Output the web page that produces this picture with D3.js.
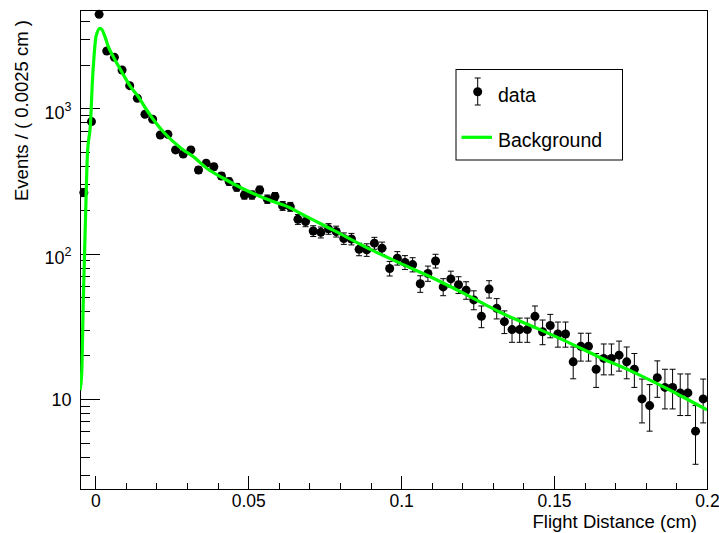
<!DOCTYPE html>
<html><head><meta charset="utf-8">
<script src="https://cdn.jsdelivr.net/npm/d3@7"></script>
<style>
body{margin:0;background:#fff}
svg{display:block}
text{font-family:"Liberation Sans",Arial,Helvetica,sans-serif;fill:#000}
</style>
</head><body>
<svg id="chart" width="719" height="533"></svg>
<script>
// ---------------- data ----------------
const binLow = -0.005;
const binWidth = 0.0025;
const counts = [263, 810, 4430, 2480, 2240, 1834, 1431, 1172, 909, 840,
  655, 662, 517, 485, 517, 376, 418, 396, 342, 313,
  286, 253, 253, 274, 237, 247, 213, 210, 172, 166,
  143, 140, 148, 142, 127, 126, 107, 106, 118, 109,
  79, 93, 87, 84, 62, 73, 89, 59, 67, 61,
  56, 48, 37, 57, 42, 34, 30, 30, 30, 37,
  29, 32, 28, 28, 18, 23, 23, 16, 19, 19,
  20, 18, 16, 10, 9, 14, 12, 12, 11, 11,
  6, 10];
const curveDist = [-0.005, -0.00444, -0.00392, -0.00304, -0.00261, -0.0015, -0.00098, -0.00042, 0.00023, 0.00154,
  0.0021, 0.00317, 0.00425, 0.00589, 0.00863, 0.01135, 0.01406, 0.01681, 0.01952, 0.02224,
  0.0255, 0.02878, 0.03204, 0.03643, 0.04185, 0.04731, 0.05277, 0.0582, 0.06366, 0.06693,
  0.07782, 0.08874, 0.09963, 0.11052, 0.12143, 0.13232, 0.14321, 0.15413, 0.16502, 0.17591,
  0.18683, 0.2];
const curveVal = [11.5, 15.1, 48, 234, 465, 831, 1486, 2265, 3109, 3551,
  3495, 3109, 2653, 2265, 1786, 1424, 1202, 973, 809, 690,
  589, 517, 465, 387, 330, 286, 253, 228, 207, 190,
  145, 110, 86, 67.7, 52, 39.5, 31.4, 24.8, 19.3, 15.3,
  11.8, 8.4];
const xMajorTicks = [0, 0.05, 0.1, 0.15, 0.2];
const xTickLabels = ["0", "0.05", "0.1", "0.15", "0.2"];
const xMinorTicks = [0.01,0.02,0.03,0.04,0.06,0.07,0.08,0.09,0.11,0.12,0.13,0.14,0.16,0.17,0.18,0.19];
const yMajorTicks = [10, 100, 1000];
const yTickBase = ["10", "10", "10"];
const yTickExp = ["", "2", "3"];
const yMinorTicks = [3,4,5,6,7,8,9,20,30,40,50,60,70,80,90,200,300,400,500,600,700,800,900,2000,3000,4000];
const xTitle = "Flight Distance (cm)";
const yTitle = "Events / ( 0.0025 cm )";
const legendLabels = ["data", "Background"];

// ---------------- layout ----------------
const L = 80, R = 707, T = 10, B = 489;
const svg = d3.select("#chart");
const x = d3.scaleLinear().domain([-0.005, 0.2]).range([L, R]);
const y = d3.scaleLog().domain([2.4, 4745]).range([B, T]);

svg.append("defs").append("clipPath").attr("id","clip")
  .append("rect").attr("x",L).attr("y",T).attr("width",R-L).attr("height",B-T);

// x axis
const gx = svg.append("g").attr("transform",`translate(0,${B})`);
gx.call(d3.axisBottom(x).tickValues(xMajorTicks).tickSizeInner(-13).tickSizeOuter(0).tickPadding(5.5)
  .tickFormat((d,i)=>xTickLabels[i]));
const gxm = svg.append("g").attr("transform",`translate(0,${B})`);
gxm.call(d3.axisBottom(x).tickValues(xMinorTicks).tickSizeInner(-6.5).tickSizeOuter(0).tickFormat(""));
[gx,gxm].forEach(g=>{g.select(".domain").remove();g.selectAll("line").attr("stroke","#000").attr("shape-rendering","crispEdges");});
gx.selectAll("text").attr("font-size",17.5).attr("font-family",null).attr("fill","#000");

// y axis
const gy = svg.append("g").attr("transform",`translate(${L},0)`);
gy.call(d3.axisLeft(y).tickValues(yMajorTicks).tickSizeInner(-20).tickSizeOuter(0).tickPadding(8).tickFormat(""));
const gym = svg.append("g").attr("transform",`translate(${L},0)`);
gym.call(d3.axisLeft(y).tickValues(yMinorTicks).tickSizeInner(-10).tickSizeOuter(0).tickFormat(""));
[gy,gym].forEach(g=>{g.select(".domain").remove();g.selectAll("line").attr("stroke","#000").attr("shape-rendering","crispEdges");});
gy.selectAll(".tick").each(function(d,i){
  const t = d3.select(this).select("text").attr("font-size",18).attr("font-family",null)
    .attr("x",-8.5).attr("dy",null).attr("text-anchor","end");
  t.text(null);
  if (yTickExp[i]) {
    t.attr("y",10);
    t.append("tspan").text(yTickBase[i]);
    t.append("tspan").attr("dy",-8).attr("font-size",12.5).text(yTickExp[i]);
  } else {
    t.attr("y",7);
    t.append("tspan").text(yTickBase[i]);
  }
});

// frame
svg.append("rect").attr("x",L).attr("y",T).attr("width",R-L).attr("height",B-T)
  .attr("fill","none").attr("stroke","#000").attr("stroke-width",1).attr("shape-rendering","crispEdges");

// titles
svg.append("text").attr("x",697).attr("y",528).attr("text-anchor","end").attr("font-size",18.5).text(xTitle);
svg.append("text").attr("transform","translate(28,20) rotate(-90)").attr("text-anchor","end").attr("font-size",18.5).text(yTitle);

// data
const pts = counts.map((n,i)=>({d: binLow + (i+0.5)*binWidth, n,
  lo: n - Math.sqrt(n), hi: n + 0.5 + Math.sqrt(n+0.25)}));
const gd = svg.append("g");
const cap = 3;
gd.selectAll("line.eb").data(pts).join("line").attr("class","eb")
  .attr("x1",p=>x(p.d)).attr("x2",p=>x(p.d)).attr("y1",p=>y(p.lo)).attr("y2",p=>y(p.hi))
  .attr("stroke","#000").attr("stroke-width",1);
gd.selectAll("line.ct").data(pts).join("line").attr("class","ct")
  .attr("x1",p=>x(p.d)-cap).attr("x2",p=>x(p.d)+cap).attr("y1",p=>y(p.hi)).attr("y2",p=>y(p.hi))
  .attr("stroke","#000").attr("stroke-width",1);
gd.selectAll("line.cb").data(pts).join("line").attr("class","cb")
  .attr("x1",p=>x(p.d)-cap).attr("x2",p=>x(p.d)+cap).attr("y1",p=>y(p.lo)).attr("y2",p=>y(p.lo))
  .attr("stroke","#000").attr("stroke-width",1);
gd.selectAll("circle").data(pts).join("circle")
  .attr("cx",p=>x(p.d)).attr("cy",p=>y(p.n)).attr("r",4.5).attr("fill","#000");

// curve
const curvePts = curveDist.map((d,i)=>[d, curveVal[i]]);
svg.append("path").attr("clip-path","url(#clip)").datum(curvePts)
  .attr("d", d3.line().x(p=>x(p[0])).y(p=>y(p[1])).curve(d3.curveMonotoneX))
  .attr("fill","none").attr("stroke","#00ff00").attr("stroke-width",3.2);

// legend
const lg = svg.append("g");
lg.append("rect").attr("x",456).attr("y",69.5).attr("width",166.5).attr("height",90.5)
  .attr("fill","#fff").attr("stroke","#000").attr("stroke-width",1);
lg.append("line").attr("x1",477.7).attr("x2",477.7).attr("y1",78).attr("y2",105).attr("stroke","#000");
lg.append("line").attr("x1",474.7).attr("x2",480.7).attr("y1",78).attr("y2",78).attr("stroke","#000");
lg.append("line").attr("x1",474.7).attr("x2",480.7).attr("y1",105).attr("y2",105).attr("stroke","#000");
lg.append("circle").attr("cx",477.7).attr("cy",91.7).attr("r",4.5).attr("fill","#000");
lg.append("text").attr("x",498).attr("y",102).attr("font-size",19.5).text(legendLabels[0]);
lg.append("line").attr("x1",461.5).attr("x2",492).attr("y1",137.3).attr("y2",137.3)
  .attr("stroke","#00ff00").attr("stroke-width",3.2);
lg.append("text").attr("x",498).attr("y",147).attr("font-size",19.5).text(legendLabels[1]);
</script>
</body></html>
